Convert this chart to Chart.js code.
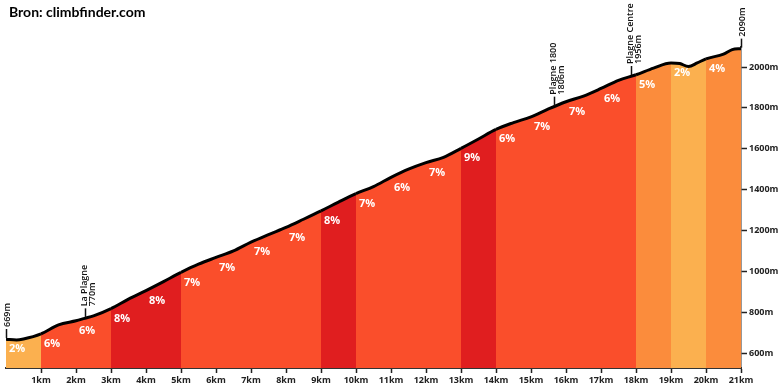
<!DOCTYPE html>
<html>
<head>
<meta charset="utf-8">
<script src="https://cdn.jsdelivr.net/npm/chart.js@4.4.1/dist/chart.umd.min.js"></script>
<style>
  body { margin: 0; background: #fff; }
</style>
</head>
<body>
<canvas id="profile" width="780" height="390"></canvas>
<script>
// profile: distance (km) and elevation (m)
const distKm = [0, 0.3, 0.5, 1, 1.5, 2, 2.25, 2.5, 3, 3.5, 4, 4.5, 5, 5.5, 6, 6.5, 7, 7.5, 8, 8.5, 9, 9.5, 10, 10.5,
  11, 11.5, 12, 12.5, 13, 13.5, 14, 14.5, 15, 15.5, 16, 16.5, 17, 17.5, 18, 18.5, 19, 19.25, 19.5, 19.75, 20, 20.5, 20.75, 21];
const elevM = [668, 664, 669, 694, 738, 758, 770, 782, 818, 864, 906, 950, 995, 1035, 1068, 1100, 1143, 1180, 1215, 1255, 1296, 1339, 1380, 1415,
  1460, 1500, 1532, 1558, 1602, 1648, 1695, 1728, 1756, 1795, 1830, 1858, 1895, 1935, 1962, 1995, 2020, 2017, 2002, 2020, 2040, 2063, 2085, 2090];

// gradient per kilometre (%)
const gradients = [2, 6, 6, 8, 8, 7, 7, 7, 7, 8, 7, 6, 7, 9, 6, 7, 7, 6, 5, 2, 4];

// axis ticks
const kmTicks = [1, 2, 3, 4, 5, 6, 7, 8, 9, 10, 11, 12, 13, 14, 15, 16, 17, 18, 19, 20, 21];
const elevTicks = [600, 800, 1000, 1200, 1400, 1600, 1800, 2000];

// named points along the climb
const markerNames = ['', 'La Plagne', 'Plagne 1800', 'Plagne Centre', ''];
const markerKm = [0, 2.25, 15.65, 17.85, 21];
const markerElev = [669, 770, 1806, 1956, 2090];

function gradeColor(g) {
  if (g <= 3) return '#fbb04f';
  if (g <= 5) return '#fb8c3c';
  if (g <= 7) return '#fa4e2b';
  return '#e01e1f';
}

const FONT = '"Open Sans", "DejaVu Sans", sans-serif';

const overlay = {
  id: 'overlay',
  afterDatasetsDraw(chart) {
    const ctx = chart.ctx;
    const x = chart.scales.x, y = chart.scales.y;
    ctx.save();
    // percentage labels
    ctx.fillStyle = '#fff';
    ctx.font = 'bold 11px ' + FONT;
    ctx.textAlign = 'left';
    ctx.textBaseline = 'middle';
    gradients.forEach((g, i) => {
      const e = elevM[distKm.indexOf(i)];
      ctx.fillText(g + '%', x.getPixelForValue(i) + 3, y.getPixelForValue(e) + 10);
    });
    ctx.restore();
  },
  afterDraw(chart) {
    const ctx = chart.ctx;
    const x = chart.scales.x, y = chart.scales.y;
    ctx.save();
    // source
    ctx.fillStyle = '#000';
    ctx.font = 'bold 14px Lato, ' + FONT;
    ctx.textBaseline = 'middle';
    ctx.fillText('Bron: climbfinder.com', 9, 12);

    // markers
    ctx.strokeStyle = '#111';
    ctx.lineWidth = 1.5;
    ctx.fillStyle = '#111';
    ctx.font = '600 9px ' + FONT;
    markerKm.forEach((k, i) => {
      const px = Math.round(x.getPixelForValue(k)) + 0.5;
      const py = y.getPixelForValue(markerElev[i]) - 1;
      ctx.beginPath();
      ctx.moveTo(px, py);
      ctx.lineTo(px, py - 9);
      ctx.stroke();
      ctx.save();
      ctx.translate(px, py - 11);
      ctx.rotate(-Math.PI / 2);
      ctx.textAlign = 'left';
      ctx.textBaseline = 'middle';
      if (markerNames[i]) {
        ctx.fillText(markerNames[i], 0, -1);
        ctx.fillText(markerElev[i] + 'm', 0, 7);
      } else {
        ctx.fillText(markerElev[i] + 'm', 0, 1);
      }
      ctx.restore();
    });
    ctx.restore();
  }
};

new Chart(document.getElementById('profile'), {
  type: 'line',
  data: {
    datasets: [{
      data: distKm.map((d, i) => ({x: d, y: elevM[i]})),
      borderColor: '#000',
      borderWidth: 3,
      pointRadius: 0,
      cubicInterpolationMode: 'monotone',
      fill: 'start',
      backgroundColor: gradeColor(7),
      segment: {
        backgroundColor: c => gradeColor(gradients[Math.min(20, Math.floor(c.p0.parsed.x + 1e-6))])
      }
    }]
  },
  options: {
    responsive: false,
    devicePixelRatio: 1,
    animation: false,
    layout: { padding: { top: 47, left: 6, right: 0, bottom: 0 } },
    plugins: { legend: { display: false }, tooltip: { enabled: false } },
    scales: {
      x: {
        type: 'linear',
        min: 0,
        max: 21,
        z: 1,
        afterBuildTicks: s => { s.ticks = kmTicks.map(v => ({value: v})); },
        afterFit: s => { s.height = 22; },
        grid: { drawOnChartArea: false, tickLength: 5, color: '#222', tickWidth: 1.5 },
        border: { display: true, color: '#333', width: 2 },
        ticks: {
          autoSkip: false,
          maxRotation: 0,
          padding: 2,
          color: '#222',
          font: { family: FONT, size: 9, weight: 'bold' },
          callback: v => v + 'km'
        }
      },
      y: {
        position: 'right',
        min: 527,
        max: 2098,
        z: 1,
        afterBuildTicks: s => { s.ticks = elevTicks.map(v => ({value: v})); },
        afterFit: s => { s.width = 39; },
        grid: { drawOnChartArea: false, tickLength: 6, color: '#222', tickWidth: 1.5 },
        border: { display: true, color: '#333', width: 1.5 },
        ticks: {
          padding: 2,
          color: '#222',
          font: { family: FONT, size: 9, weight: 'bold' },
          callback: v => v + 'm'
        }
      }
    }
  },
  plugins: [overlay]
});
</script>
</body>
</html>
